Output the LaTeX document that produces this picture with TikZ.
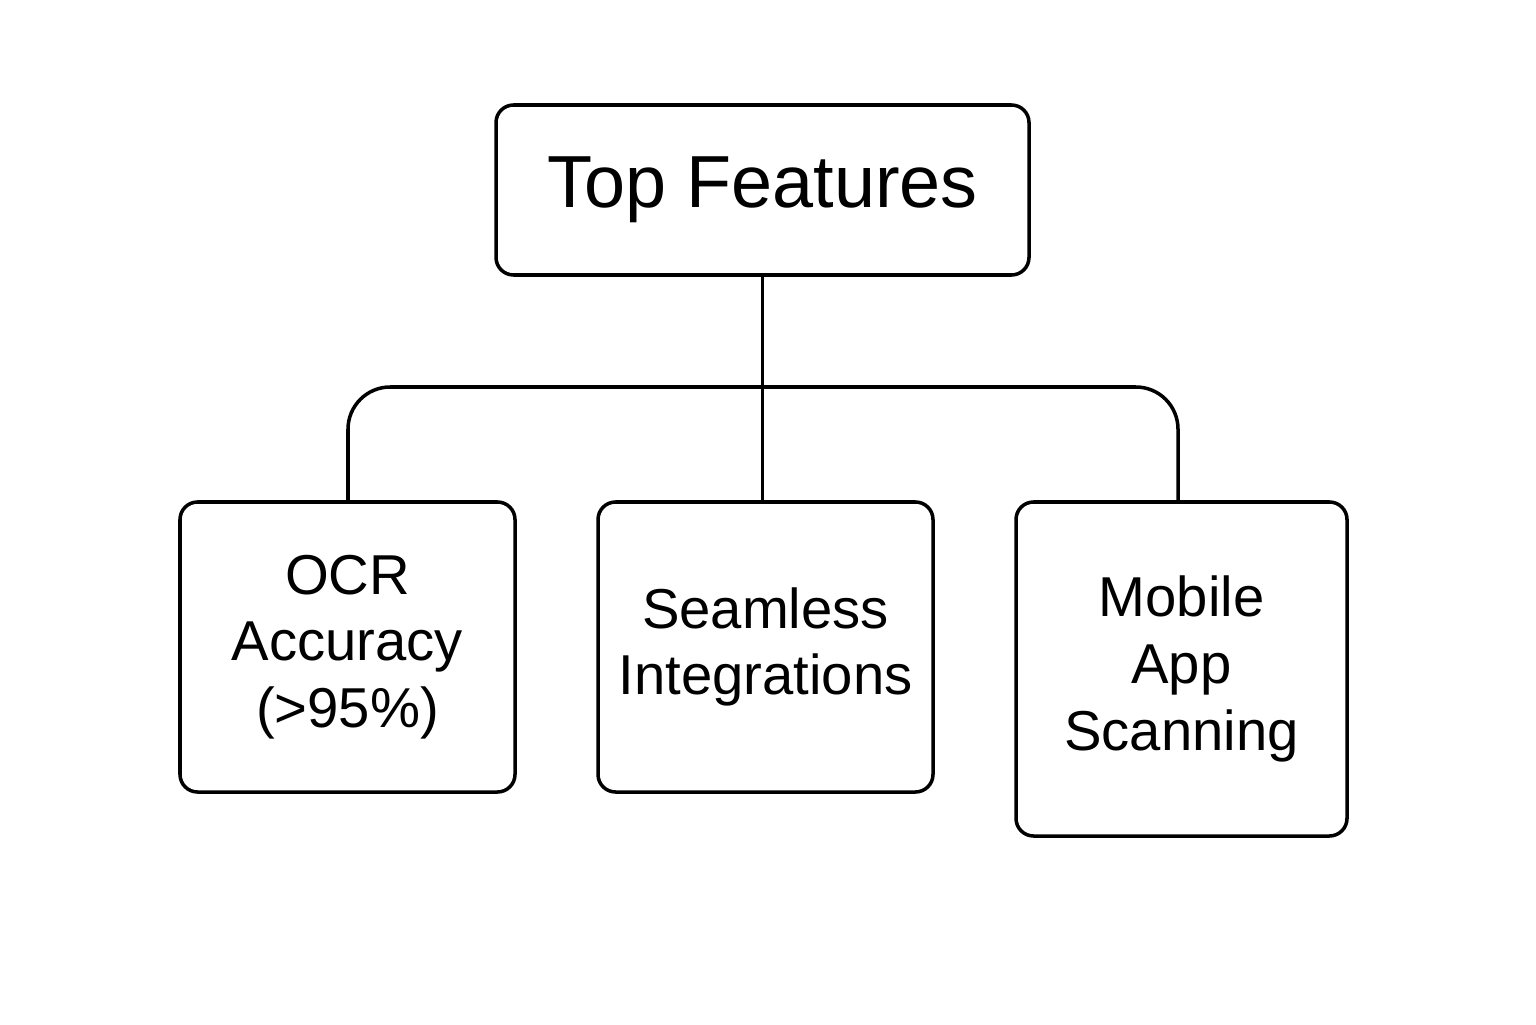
\documentclass[tikz,border=0pt]{standalone}
\usepackage{fontspec}
\setmainfont{Liberation Sans}
\usetikzlibrary{positioning}

\tikzset{
  featbox/.style = {draw, line width=1pt, rounded corners=5pt, align=center,
                    inner sep=0pt, font=\fontsize{16}{19}\selectfont},
  link/.style    = {line width=1pt, rounded corners=12pt}
}

\begin{document}
\begin{tikzpicture}
        \useasboundingbox (0,0) rectangle (15.36,10.24);

        \node[featbox, minimum width=5.33cm, minimum height=1.70cm,
              font=\fontsize{21}{25}\selectfont] (top) at (7.625,8.34) {Top Features};

        \node[featbox, minimum width=3.35cm, minimum height=2.90cm] (ocr) at (3.475,3.77) {OCR\\Accuracy\\(>95\%)};
        \node[featbox, minimum width=3.35cm, minimum height=2.90cm] (seam) at (7.655,3.77) {Seamless\\Integrations};
        \node[featbox, minimum width=3.31cm, minimum height=3.34cm] (mobile) at (11.815,3.55) {Mobile\\App\\Scanning};

        \coordinate (bar) at (7.63,6.37);

        \draw[link] (top.south) -- (top.south |- seam.north);
        \draw[link] (ocr.north -| 3.48,0) |- (bar) -| (mobile.north -| 11.78,0);
\end{tikzpicture}
\end{document}
